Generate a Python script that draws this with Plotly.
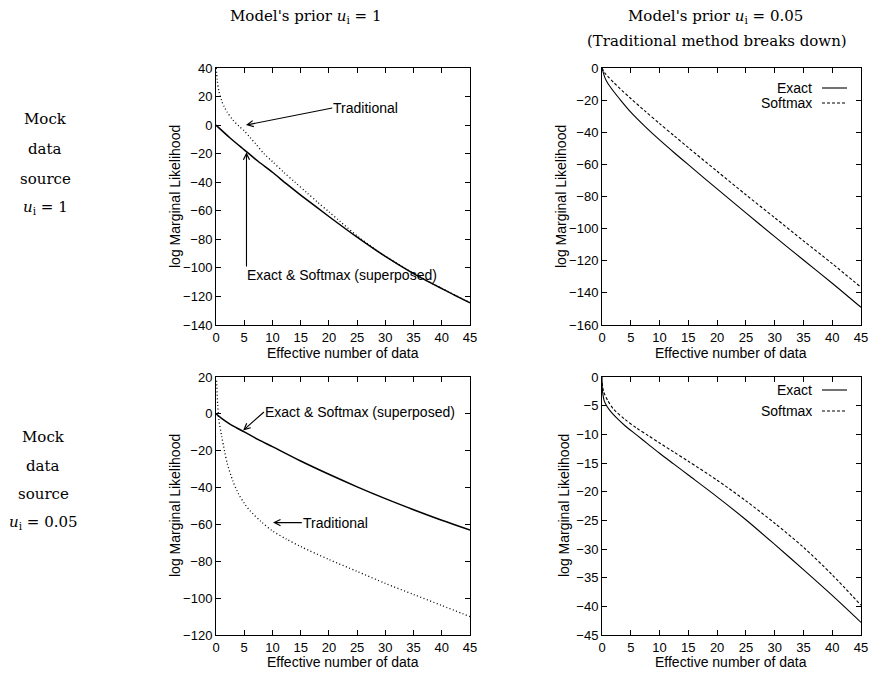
import plotly.graph_objects as go

W, H = 873, 673

# ---------------- data ----------------
# Top-left: data source u=1, model prior u=1
tl_exact_x = [0, 2.5, 5, 7.5, 10, 12.5, 15, 20, 25, 30, 35, 40, 45]
tl_exact_y = [0, -9, -17.3, -25.5, -33, -41.2, -49, -64, -78.5, -92, -104, -114.5, -124.5]
tl_trad_x = [0.05, 0.2, 0.5, 1, 1.5, 2, 3, 4, 5, 6, 7, 8.5, 10, 12, 14, 16, 18, 20, 22, 25, 28, 30, 35, 40, 45]
tl_trad_y = [40, 32, 24, 17, 12.5, 9, 3.5, -0.5, -4, -8.5, -13, -20, -25.5, -33, -40, -47, -54, -60.7, -67.5, -77.6, -86.3, -91.8, -103.8, -114.4, -124.3]

# Top-right: data source u=1, model prior u=0.05
tr_exact_x = [0, 0.5, 1, 2, 3, 5, 7.5, 10, 12.5, 15, 20, 25, 30, 35, 40, 45]
tr_exact_y = [0, -6, -9.5, -14.5, -19, -27.5, -36.5, -44.8, -52.6, -60.2, -75.3, -90.2, -105, -119.5, -134, -149]
tr_soft_x = [0, 0.5, 1, 2, 3, 5, 7.5, 10, 12.5, 15, 20, 25, 30, 35, 40, 45]
tr_soft_y = [0, -3.2, -5.2, -8.9, -12.4, -19, -26.9, -34.6, -42.1, -49.6, -64.3, -78.9, -93.2, -107.6, -121.8, -136.5]

# Bottom-left: data source u=0.05, model prior u=1
bl_exact_x = [0, 1, 2, 3, 5, 7.5, 10, 15, 20, 25, 30, 35, 40, 45]
bl_exact_y = [0, -2.5, -4.6, -6.5, -9.8, -14, -17.8, -25.6, -32.8, -39.6, -46, -52, -57.7, -63]
bl_trad_x = [0.1, 0.3, 0.5, 1, 1.5, 2, 3, 4, 5, 6, 8, 10, 12.5, 15, 20, 25, 30, 35, 40, 45]
bl_trad_y = [18, 5, -3, -12, -20, -27, -36.5, -43.5, -48.5, -52.5, -58.5, -63.5, -68, -72, -79, -85.5, -92, -98, -104, -110]

# Bottom-right: data source u=0.05, model prior u=0.05
br_exact_x = [0, 0.05, 0.15, 0.4, 0.8, 1.5, 2.5, 4, 6, 8, 10, 12.5, 15, 20, 25, 30, 35, 40, 45]
br_exact_y = [0, -2, -3, -4.2, -5, -6, -7.1, -8.5, -10.1, -11.7, -13.3, -15.2, -17.1, -20.9, -24.9, -29.2, -33.6, -38.1, -42.8]
br_soft_x = [0.03, 0.3, 1, 2, 4, 6, 8, 10, 12.5, 15, 20, 25, 30, 35, 40, 45]
br_soft_y = [-1, -2.6, -4.1, -5.6, -7.4, -8.9, -10.2, -11.5, -13.1, -14.7, -18, -21.6, -25.5, -29.7, -34.5, -39.8]

x_ticks = [0, 5, 10, 15, 20, 25, 30, 35, 40, 45]

# ---------------- figure ----------------
def px_x(p):
    return p / W

def px_y(p):
    return 1 - p / H

fig = go.Figure()

SOLID = dict(color="black", width=1.5, shape="spline", smoothing=0.8)
THIN = dict(color="black", width=1.1, shape="spline", smoothing=0.8)
DOT = dict(color="black", width=1.3, dash="1px,2.5px", shape="spline", smoothing=0.8)
DASH = dict(color="black", width=1.1, dash="3px,2px", shape="spline", smoothing=0.8)

fig.add_trace(go.Scatter(x=tl_trad_x, y=tl_trad_y, mode="lines", line=DOT, xaxis="x", yaxis="y"))
fig.add_trace(go.Scatter(x=tl_exact_x, y=tl_exact_y, mode="lines", line=SOLID, xaxis="x", yaxis="y"))

fig.add_trace(go.Scatter(x=tr_soft_x, y=tr_soft_y, mode="lines", line=DASH, xaxis="x2", yaxis="y2"))
fig.add_trace(go.Scatter(x=tr_exact_x, y=tr_exact_y, mode="lines", line=THIN, xaxis="x2", yaxis="y2"))

fig.add_trace(go.Scatter(x=bl_trad_x, y=bl_trad_y, mode="lines", line=DOT, xaxis="x3", yaxis="y3"))
fig.add_trace(go.Scatter(x=bl_exact_x, y=bl_exact_y, mode="lines", line=SOLID, xaxis="x3", yaxis="y3"))

fig.add_trace(go.Scatter(x=br_soft_x, y=br_soft_y, mode="lines", line=DASH, xaxis="x4", yaxis="y4"))
fig.add_trace(go.Scatter(x=br_exact_x, y=br_exact_y, mode="lines", line=THIN, xaxis="x4", yaxis="y4"))

AX_FONT = dict(family="Liberation Sans, Arial, sans-serif", size=13, color="black")

def xax(dom, anchor):
    return dict(domain=dom, anchor=anchor, range=[0, 45], tickvals=x_ticks,
                ticks="inside", ticklen=5, tickcolor="black", showline=True,
                linecolor="black", linewidth=1, mirror="ticks", showgrid=False,
                zeroline=False, tickfont=AX_FONT, automargin=False)

def yax(dom, anchor, rng, dtick):
    return dict(domain=dom, anchor=anchor, range=rng, dtick=dtick, tick0=0,
                ticks="inside", ticklen=5, tickcolor="black", showline=True,
                linecolor="black", linewidth=1, mirror="ticks", showgrid=False,
                zeroline=False, tickfont=AX_FONT, automargin=False)

xL = [px_x(216), px_x(470)]
xR = [px_x(602), px_x(861)]
yT = [px_y(325), px_y(68)]
yB = [px_y(635), px_y(377)]

fig.update_layout(
    width=W, height=H, margin=dict(l=0, r=0, t=0, b=0, pad=0, autoexpand=False),
    paper_bgcolor="white", plot_bgcolor="white", showlegend=False,
    xaxis=xax(xL, "y"), yaxis=yax(yT, "x", [-140, 40], 20),
    xaxis2=xax(xR, "y2"), yaxis2=yax(yT, "x2", [-160, 0], 20),
    xaxis3=xax(xL, "y3"), yaxis3=yax(yB, "x3", [-120, 20], 20),
    xaxis4=xax(xR, "y4"), yaxis4=yax(yB, "x4", [-45, 0], 5),
)

SERIF = dict(family="DejaVu Serif, Liberation Serif, serif", size=15, color="black")
LBL = dict(family="Liberation Sans, Arial, sans-serif", size=14, color="black")

ann = []

def ptxt(text, x, y, font=SERIF, xanchor="center", angle=0):
    ann.append(dict(text=text, x=px_x(x), y=px_y(y), xref="paper", yref="paper",
                    showarrow=False, xanchor=xanchor, yanchor="middle", font=font,
                    textangle=angle))

# column / row titles
ptxt("Model's prior <i>u</i><sub>i</sub> = 1", 305, 16)
ptxt("Model's prior <i>u</i><sub>i</sub> = 0.05", 715, 16)
ptxt("(Traditional method breaks down)", 717, 41)
for txt, yy in [("Mock", 119), ("data", 149), ("source", 179), ("<i>u</i><sub>i</sub> = 1", 207)]:
    ptxt(txt, 45, yy)
for txt, yy in [("Mock", 437), ("data", 466), ("source", 494), ("<i>u</i><sub>i</sub> = 0.05", 522)]:
    ptxt(txt, 43, yy)

# axis titles
for cx in (343, 731):
    ptxt("Effective number of data", cx, 353, font=LBL)
    ptxt("Effective number of data", cx, 662, font=LBL)
ptxt("log Marginal Likelihood", 175, 197, font=LBL, angle=-90)
ptxt("log Marginal Likelihood", 175, 506, font=LBL, angle=-90)
ptxt("log Marginal Likelihood", 561, 197, font=LBL, angle=-90)
ptxt("log Marginal Likelihood", 564, 506, font=LBL, angle=-90)

def arrow_txt(xr, yr, text, tip, tail, xanchor, yanchor):
    ann.append(dict(text=text, x=tip[0], y=tip[1], ax=tail[0], ay=tail[1],
                    xref=xr, yref=yr, axref=xr, ayref=yr, showarrow=True,
                    xanchor=xanchor, yanchor=yanchor, font=LBL,
                    arrowhead=5, arrowsize=1.1, arrowwidth=1.1, arrowcolor="black",
                    standoff=0, startstandoff=0, borderpad=0))

# top-left annotations
arrow_txt("x", "y", "Traditional", (5.3, 0), (20.6, 12), "left", "middle")
arrow_txt("x", "y", "Exact &amp; Softmax (superposed)", (5.4, -19), (5.4, -99), "left", "top")

# bottom-left annotations
arrow_txt("x3", "y3", "Exact &amp; Softmax (superposed)", (4.8, -9), (8.5, 1), "left", "middle")
arrow_txt("x3", "y3", "Traditional", (10.1, -59), (15.2, -59), "left", "middle")

# legends (right panels)
shapes = []
def legend(y_exact, y_soft):
    for lab, yy, dash in [("Exact", y_exact, "solid"), ("Softmax", y_soft, "3px,2px")]:
        ann.append(dict(text=lab, x=px_x(814), y=px_y(yy), xref="paper", yref="paper",
                        showarrow=False, xanchor="right", yanchor="middle", font=LBL))
        shapes.append(dict(type="line", xref="paper", yref="paper",
                           x0=px_x(822), x1=px_x(847), y0=px_y(yy), y1=px_y(yy),
                           line=dict(color="black", width=1.1, dash=dash)))

legend(88, 103)
legend(390, 411)

fig.update_layout(annotations=ann, shapes=shapes)
fig.write_html("out.html", config={"displayModeBar": False},
               post_script="document.body.style.margin='0';document.body.style.padding='0';")
